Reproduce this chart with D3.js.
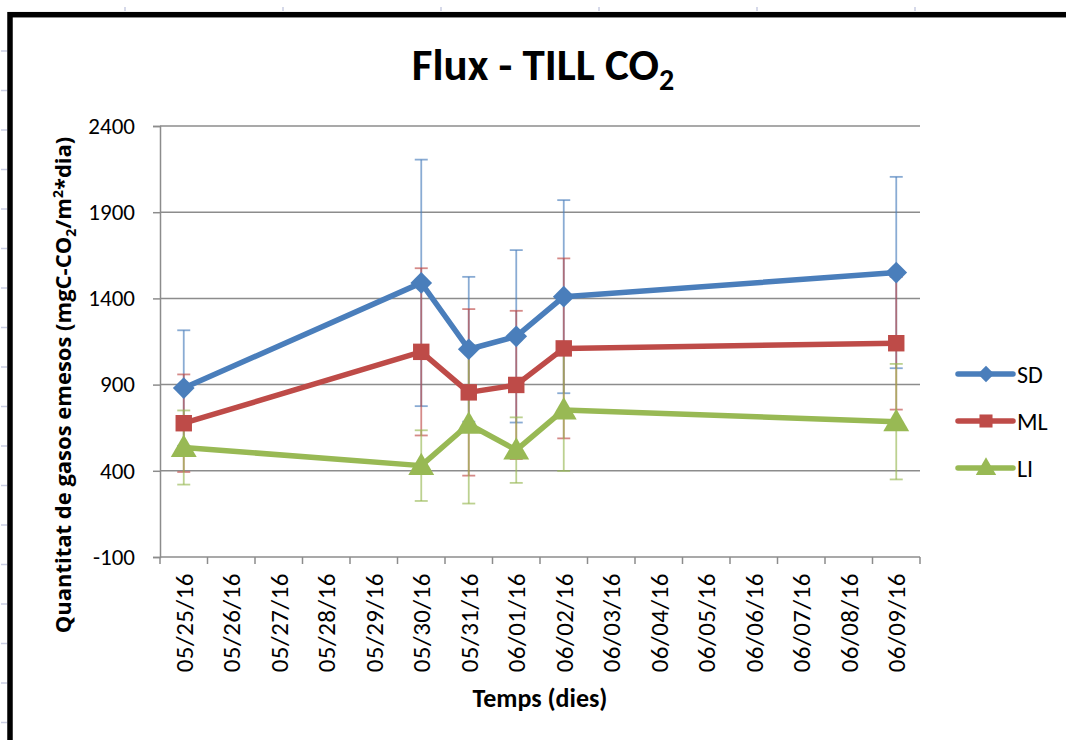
<!DOCTYPE html>
<html>
<head>
<meta charset="utf-8">
<script src="https://cdn.jsdelivr.net/npm/d3@7"></script>
<style>
  body { margin: 0; background: #fff; }
  svg { display: block; font-family: Carlito, Lato, "Open Sans", sans-serif; }
</style>
</head>
<body>
<div id="chart"></div>
<script>
// all days on the date axis
const dayLabels = ["05/25/16","05/26/16","05/27/16","05/28/16","05/29/16","05/30/16","05/31/16","06/01/16",
                   "06/02/16","06/03/16","06/04/16","06/05/16","06/06/16","06/07/16","06/08/16","06/09/16"];
// sampling days
const sampleDays = ["05/25/16","05/30/16","05/31/16","06/01/16","06/02/16","06/09/16"];

const sdValues = [880, 1490, 1105, 1180, 1410, 1550];
const sdErrors = [335, 715, 420, 500, 560, 555];
const mlValues = [676, 1090, 855, 898, 1110, 1140];
const mlErrors = [283, 485, 483, 430, 522, 385];
const liValues = [535, 430, 670, 520, 753, 685];
const liErrors = [215, 205, 460, 190, 354, 335];

const yTicks = [-100, 400, 900, 1400, 1900, 2400];

const seriesNames = ["SD", "ML", "LI"];
const seriesColors = ["#4A7EBB", "#BE4B48", "#98B954"];
const seriesShapes = [d3.symbolDiamond2, d3.symbolSquare, d3.symbolTriangle];

const series = seriesNames.map((name, k) => {
  const vals = [sdValues, mlValues, liValues][k];
  const errs = [sdErrors, mlErrors, liErrors][k];
  return {
    name: name,
    color: seriesColors[k],
    shape: seriesShapes[k],
    points: sampleDays.map((d, i) => ({day: d, v: vals[i], e: errs[i]}))
  };
});

const width = 1066, height = 740;
const plot = {left: 160, right: 920, top: 126, bottom: 557};

const svg = d3.select("#chart").append("svg")
  .attr("width", width)
  .attr("height", height);

// faint sheet gridline marks outside the frame
const sheetRows = d3.range(51, 740, 39.5);
svg.selectAll("line.row").data(sheetRows).enter().append("line")
  .attr("x1", 1).attr("x2", 7).attr("y1", d => d).attr("y2", d => d)
  .attr("stroke", "#c9cde2").attr("stroke-width", 1.5);
const sheetCols = d3.range(125, 1066, 158);
svg.selectAll("line.col").data(sheetCols).enter().append("line")
  .attr("x1", d => d).attr("x2", d => d).attr("y1", 7).attr("y2", 11)
  .attr("stroke", "#c9cde2").attr("stroke-width", 1.5);

// chart frame
svg.append("rect")
  .attr("x", 10).attr("y", 14.7)
  .attr("width", 1200).attr("height", 900)
  .attr("fill", "#fff")
  .attr("stroke", "#000")
  .attr("stroke-width", 5.5);

const x = d3.scaleBand().domain(dayLabels).range([plot.left, plot.right]);
const y = d3.scaleLinear().domain([-100, 2400]).range([plot.bottom, plot.top]);
const xc = d => x(d) + x.bandwidth() / 2;

// gridlines
svg.append("g").selectAll("line").data(yTicks.slice(1)).enter().append("line")
  .attr("x1", plot.left).attr("x2", plot.right)
  .attr("y1", d => y(d)).attr("y2", d => y(d))
  .attr("stroke", "#8c8c8c").attr("stroke-width", 1.5);

// y axis
const yAxis = svg.append("g")
  .attr("transform", `translate(${plot.left},0)`)
  .call(d3.axisLeft(y).tickValues(yTicks).tickSize(7).tickPadding(18)
    .tickFormat(d => String(d)));
yAxis.select(".domain").attr("stroke", "#8c8c8c").attr("stroke-width", 1.5);
yAxis.selectAll(".tick line").attr("stroke", "#8c8c8c").attr("stroke-width", 1.5);
yAxis.selectAll(".tick text")
  .attr("font-family", "Carlito, Lato, sans-serif")
  .attr("font-size", 23).attr("fill", "#000");

// x axis: ticks at day boundaries, labels at day centres
const xAxis = svg.append("g")
  .attr("transform", `translate(0,${plot.bottom})`);
xAxis.append("line")
  .attr("x1", plot.left).attr("x2", plot.right)
  .attr("stroke", "#8c8c8c").attr("stroke-width", 1.5);
const bounds = dayLabels.map(d => x(d)).concat([plot.right]);
xAxis.selectAll("line.tk").data(bounds).enter().append("line")
  .attr("x1", d => d).attr("x2", d => d).attr("y1", 0).attr("y2", 7)
  .attr("stroke", "#8c8c8c").attr("stroke-width", 1.5);
xAxis.selectAll("text").data(dayLabels).enter().append("text")
  .attr("transform", d => `translate(${xc(d)},16) rotate(-90)`)
  .attr("dy", "0.36em")
  .attr("text-anchor", "end")
  .attr("font-size", 25)
  .attr("letter-spacing", 0.5)
  .text(d => d);

// error bars
const cap = 6.5;
series.forEach(s => {
  const g = svg.append("g")
    .attr("stroke", s.color).attr("stroke-opacity", 0.65).attr("stroke-width", 1.8);
  g.selectAll("line.v").data(s.points).enter().append("line")
    .attr("x1", d => xc(d.day)).attr("x2", d => xc(d.day))
    .attr("y1", d => y(d.v + d.e)).attr("y2", d => y(d.v - d.e));
  g.selectAll("line.t").data(s.points).enter().append("line")
    .attr("x1", d => xc(d.day) - cap).attr("x2", d => xc(d.day) + cap)
    .attr("y1", d => y(d.v + d.e)).attr("y2", d => y(d.v + d.e));
  g.selectAll("line.b").data(s.points).enter().append("line")
    .attr("x1", d => xc(d.day) - cap).attr("x2", d => xc(d.day) + cap)
    .attr("y1", d => y(d.v - d.e)).attr("y2", d => y(d.v - d.e));
});

// lines and markers
const line = d3.line().x(d => xc(d.day)).y(d => y(d.v));
const markerSize = [300, 270, 290];
series.forEach((s, k) => {
  svg.append("path")
    .datum(s.points)
    .attr("d", line)
    .attr("fill", "none")
    .attr("stroke", s.color)
    .attr("stroke-width", 5.5)
    .attr("stroke-linejoin", "round");
  svg.append("g").selectAll("path").data(s.points).enter().append("path")
    .attr("transform", d => `translate(${xc(d.day)},${y(d.v) + (k === 2 ? 2 : 0)})`)
    .attr("d", d3.symbol().type(s.shape).size(markerSize[k]))
    .attr("fill", s.color);
});

// legend
const legendRows = [374, 421, 468];
series.forEach((s, k) => {
  const g = svg.append("g").attr("transform", `translate(0,${legendRows[k]})`);
  g.append("line")
    .attr("x1", 958).attr("x2", 1013)
    .attr("stroke", s.color).attr("stroke-width", 5.5).attr("stroke-linecap", "round");
  g.append("path")
    .attr("transform", `translate(986,${k === 2 ? 1 : 0})`)
    .attr("d", d3.symbol().type(s.shape).size(k === 2 ? 180 : 170))
    .attr("fill", s.color);
  g.append("text")
    .attr("x", 1017).attr("dy", "0.36em")
    .attr("font-size", 24)
    .text(s.name);
});

// title
const title = svg.append("text")
  .attr("x", 543).attr("y", 80)
  .attr("text-anchor", "middle")
  .attr("font-size", 45).attr("font-weight", "bold");
title.append("tspan").text("Flux - TILL CO");
title.append("tspan").attr("font-size", 30).attr("dy", 10).text("2");

// axis titles
svg.append("text")
  .attr("x", 540).attr("y", 707)
  .attr("text-anchor", "middle")
  .attr("font-size", 26).attr("font-weight", "bold")
  .text("Temps (dies)");

const yt = svg.append("text")
  .attr("transform", "translate(71,385) rotate(-90)")
  .attr("text-anchor", "middle")
  .attr("font-family", "'Open Sans', Lato, sans-serif")
  .attr("font-size", 22).attr("font-weight", "bold");
yt.append("tspan").text("Quantitat de gasos emesos (mgC-CO");
yt.append("tspan").attr("font-size", 14).attr("dy", 5).text("2");
yt.append("tspan").attr("dy", -5).text("/m");
yt.append("tspan").attr("font-size", 14).attr("dy", -8).text("2");
yt.append("tspan").attr("dy", 8).text("*dia)");
</script>
</body>
</html>
